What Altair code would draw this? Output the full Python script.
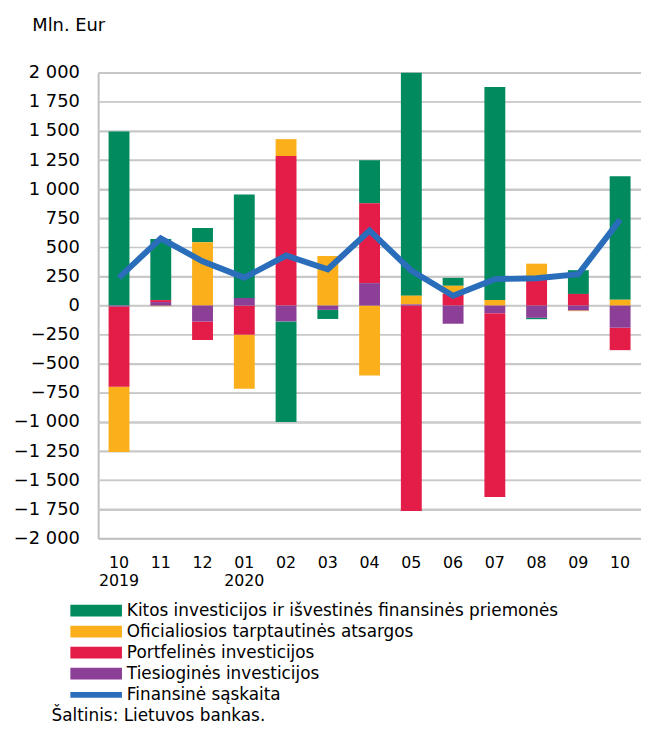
import altair as alt
import pandas as pd

months = ["10\n2019", "11", "12", "01\n2020", "02", "03", "04", "05", "06", "07", "08", "09", "10"]

kitos = [1495, 525, 122, 890, -865, -78, 368, 1915, 68, 1830, -12, 204, 1060]
oficialiosios = [-560, -5, 545, -465, 145, 425, -600, 75, 70, 48, 133, -6, 50]
portfelines = [-690, 17, -160, -250, 1285, 0, 687, -1765, 100, -1580, 227, 100, -193]
tiesiogines = [-8, 30, -136, 65, -136, -37, 193, 10, -156, -65, -105, -42, -190]
finansine = [240, 578, 380, 240, 430, 312, 644, 300, 85, 227, 235, 270, 738]

series_names = [
    "Kitos investicijos ir išvestinės finansinės priemonės",
    "Oficialiosios tarptautinės atsargos",
    "Portfelinės investicijos",
    "Tiesioginės investicijos",
]
series_colors = ["#008A5E", "#FBB01B", "#E31D48", "#8B3F97"]
stack_rank = [3, 2, 1, 0]
line_name = "Finansinė sąskaita"
line_color = "#2A6EBB"
y_ticks = list(range(-2000, 2001, 250))
source_text = "Šaltinis: Lietuvos bankas."

rows = []
for name, vals, rank in zip(series_names, [kitos, oficialiosios, portfelines, tiesiogines], stack_rank):
    for m, v in zip(months, vals):
        rows.append({"month": m, "series": name, "value": v, "rank": rank})
bars_df = pd.DataFrame(rows)
line_df = pd.DataFrame({"month": months, "series": [line_name] * len(months), "value": finansine})
grid_df = pd.DataFrame({"v": y_ticks[1:]})

FONT = "DejaVu Sans"
W, H = 548, 470
GRID = "#C8C8C8"


def x_enc():
    return alt.X(
        "month:N",
        sort=months,
        scale=alt.Scale(paddingInner=0.5, paddingOuter=0.25),
        axis=alt.Axis(
            title=None, labelAngle=0, labelExpr="split(datum.label, '\\n')",
            labelFontSize=16, labelPadding=16, ticks=False, tickSize=0,
            labelLineHeight=19, domainColor="#BFBFBF", domainWidth=2, grid=False,
        ),
    )


def y_axis():
    return alt.Axis(
        title="Mln. Eur", titleAngle=0, titleAlign="left", titleBaseline="middle",
        titleX=-67, titleY=-48, titleFontSize=18, titleFontWeight="normal",
        values=y_ticks, labelExpr="replace(format(datum.value, ','), ',', ' ')",
        labelFontSize=18, labelPadding=19, ticks=False, tickSize=0, labelOverlap=False,
        grid=True, gridColor=GRID, gridWidth=1.5, gridOpacity=1,
        domainColor="#BFBFBF", domainWidth=2,
    )


y_scale = alt.Scale(domain=[-2000, 2000], nice=False)

gridlines = alt.Chart(grid_df).mark_rule(color=GRID, strokeWidth=1.5, opacity=1).encode(
    y=alt.Y("v:Q", scale=y_scale, axis=y_axis()),
    x=alt.value(0),
    x2=alt.value(W),
)

bars = alt.Chart(bars_df).mark_bar().encode(
    x=x_enc(),
    y=alt.Y("value:Q", stack="zero", scale=y_scale, axis=y_axis()),
    fill=alt.Fill(
        "series:N",
        scale=alt.Scale(domain=series_names, range=series_colors),
        legend=alt.Legend(
            title=None, orient="none", legendX=-13, legendY=532,
            symbolType="M-2.4,-0.55H2.4V0.55H-2.4Z", symbolSize=471,
            symbolStrokeWidth=0, labelFontSize=17, labelOffset=20,
            rowPadding=2.2, labelLimit=600, symbolOpacity=1,
        ),
    ),
    order=alt.Order("rank:Q", sort="ascending"),
)

line = alt.Chart(line_df).mark_line(strokeWidth=6).encode(
    x=x_enc(),
    y=alt.Y("value:Q", scale=y_scale, axis=y_axis()),
    stroke=alt.Stroke(
        "series:N",
        scale=alt.Scale(domain=[line_name], range=[line_color]),
        legend=alt.Legend(
            title=None, orient="none", legendX=-16, legendY=614,
            symbolType="M-2.4,0H2.4", symbolSize=471, symbolStrokeWidth=6,
            labelFontSize=17, labelOffset=17, labelLimit=600,
        ),
    ),
)

source = alt.Chart(pd.DataFrame({"t": [source_text]})).mark_text(
    align="left", baseline="alphabetic", fontSize=17, font=FONT, color="black"
).encode(x=alt.value(-47), y=alt.value(654), text="t:N")

chart = alt.layer(gridlines, bars, line, source).resolve_scale(fill="independent", stroke="independent").properties(
    width=W, height=H,
    autosize=alt.AutoSizeParams(type="none"),
    padding={"left": 91, "top": 62, "right": 0, "bottom": 184},
).configure(font=FONT).configure_axis(
    labelColor="black", titleColor="black", labelFont=FONT, titleFont=FONT
).configure_legend(labelColor="black", labelFont=FONT).configure_view(stroke=None)

chart.save("out.html", embed_options={"renderer": "svg", "actions": False})
